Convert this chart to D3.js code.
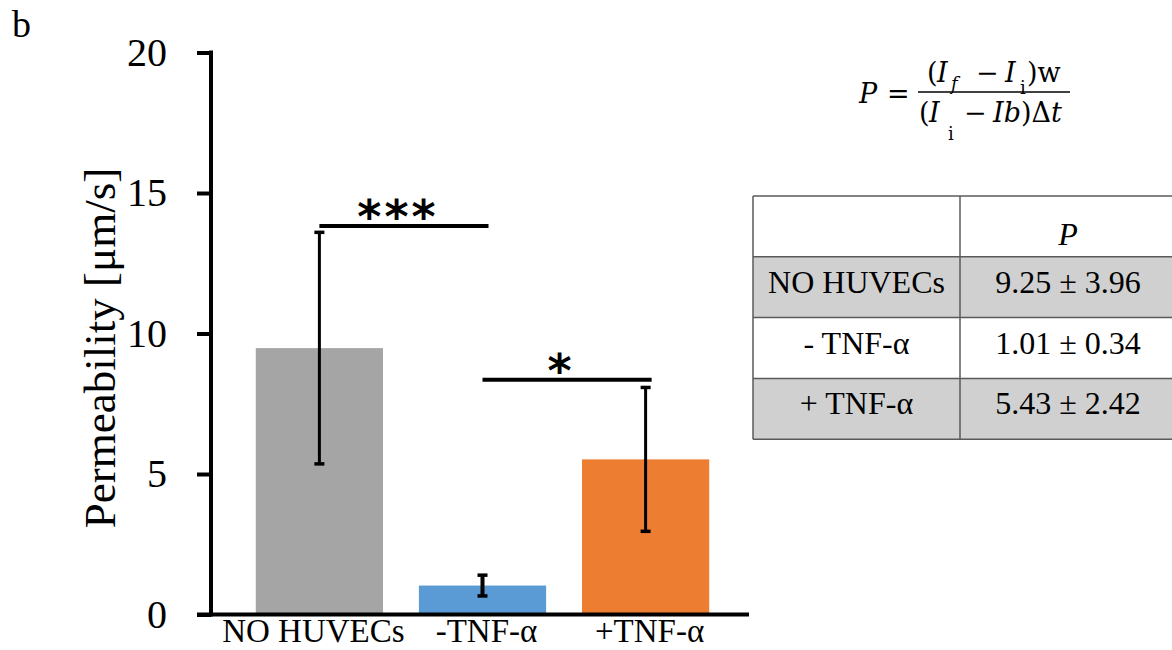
<!DOCTYPE html>
<html lang="en">
<head>
<meta charset="utf-8">
<title>Permeability</title>
<script src="https://cdn.jsdelivr.net/npm/d3@7"></script>
<style>
  body { margin: 0; background: #fff; }
  text { font-family: "Liberation Serif", "Times New Roman", serif; fill: #000; }
  .math text { font-family: "DejaVu Serif", serif; font-size: 27px; }
  .stars { font-family: "DejaVu Sans", sans-serif; font-weight: bold; }
</style>
</head>
<body>
<div id="chart"></div>
<script>
// bar data
var categories = ["NO HUVECs", "-TNF-\u03b1", "+TNF-\u03b1"];
var means = [9.48, 1.03, 5.52];
var errors = [4.12, 0.37, 2.56];
var barColors = ["#a5a5a5", "#5b9bd5", "#ed7d31"];
var yTicks = [0, 5, 10, 15, 20];

// significance brackets
var sigFrom = [0, 1];
var sigTo = [1, 2];
var sigLevel = [13.83, 8.35];
var sigLabel = ["***", "*"];

// table on the right
var tableRows = ["NO HUVECs", "- TNF-\u03b1", "+ TNF-\u03b1"];
var tableMeans = [9.25, 1.01, 5.43];
var tableSD = [3.96, 0.34, 2.42];

var width = 1172, height = 650;

var svg = d3.select("#chart").append("svg")
    .attr("width", width)
    .attr("height", height);

var y = d3.scaleLinear().domain([0, 20]).range([614.5, 52.5]);
var x = d3.scaleBand().domain(categories)
    .range([215, 750])
    .paddingInner(0.22)
    .paddingOuter(0.25);

// panel letter
svg.append("text").attr("x", 12).attr("y", 37)
    .style("font-size", "38px").text("b");

// bars
svg.append("g").selectAll("rect")
    .data(categories)
  .enter().append("rect")
    .attr("x", function(d) { return x(d); })
    .attr("width", x.bandwidth())
    .attr("y", function(d, i) { return y(means[i]); })
    .attr("height", function(d, i) { return y(0) - y(means[i]); })
    .attr("fill", function(d, i) { return barColors[i]; });

// error bars
var eb = svg.append("g").attr("stroke", "#000");
categories.forEach(function(c, i) {
  var cx = x(c) + x.bandwidth() / 2;
  var lo = y(means[i] - errors[i]), hi = y(means[i] + errors[i]);
  var sw = i == 1 ? 4 : 3;
  eb.append("line").attr("x1", cx).attr("x2", cx).attr("y1", lo).attr("y2", hi).attr("stroke-width", sw);
  eb.append("line").attr("x1", cx - 5).attr("x2", cx + 5).attr("y1", lo).attr("y2", lo).attr("stroke-width", 3.5);
  eb.append("line").attr("x1", cx - 5).attr("x2", cx + 5).attr("y1", hi).attr("y2", hi).attr("stroke-width", 3.5);
});

// y axis
var yAxis = d3.axisLeft(y)
    .tickValues(yTicks)
    .tickSize(14)
    .tickSizeOuter(0)
    .tickPadding(30)
    .tickFormat(d3.format("d"));

var gy = svg.append("g")
    .attr("transform", "translate(211,0)")
    .call(yAxis);
gy.select(".domain").remove();
gy.selectAll(".tick line").attr("stroke", "#000").attr("stroke-width", 4);
gy.selectAll(".tick text")
    .attr("font-family", "Liberation Serif, serif")
    .attr("font-size", 40)
    .attr("fill", "#000");

svg.append("line")
    .attr("x1", 211).attr("x2", 211)
    .attr("y1", y(20) - 2).attr("y2", y(0) + 2)
    .attr("stroke", "#000").attr("stroke-width", 4);

// x axis
svg.append("line")
    .attr("x1", 197).attr("x2", 749)
    .attr("y1", y(0)).attr("y2", y(0))
    .attr("stroke", "#000").attr("stroke-width", 4);

svg.append("g").selectAll("text")
    .data(categories)
  .enter().append("text")
    .attr("x", function(d, i) { return x(d) + x.bandwidth() / 2 + (i == 0 ? -6 : 4); })
    .attr("y", 642)
    .attr("text-anchor", "middle")
    .style("font-size", "33px")
    .text(function(d) { return d; });

// y label
svg.append("text")
    .attr("transform", "translate(115,348) rotate(-90)")
    .attr("text-anchor", "middle")
    .style("font-size", "45px")
    .text("Permeability [\u03bcm/s]");

// significance
sigLevel.forEach(function(v, i) {
  var x1 = x(categories[sigFrom[i]]) + x.bandwidth() / 2;
  var x2 = x(categories[sigTo[i]]) + x.bandwidth() / 2 + 6;
  svg.append("line")
      .attr("x1", x1).attr("x2", x2)
      .attr("y1", y(v)).attr("y2", y(v))
      .attr("stroke", "#000").attr("stroke-width", 4);
  svg.append("text")
      .attr("class", "stars")
      .attr("x", (x1 + x2) / 2 - 6)
      .attr("y", y(v) + 7)
      .attr("text-anchor", "middle")
      .style("font-size", "46px")
      .style("letter-spacing", "3px")
      .text(sigLabel[i]);
});

// formula
var f = svg.append("g").attr("class", "math");
f.append("text").attr("x", 859).attr("y", 103).style("font-style", "italic").text("P");
f.append("text").attr("x", 887).attr("y", 103).text("=");
f.append("line").attr("x1", 918).attr("x2", 1070).attr("y1", 92).attr("y2", 92)
    .attr("stroke", "#000").attr("stroke-width", 1.6);

var num = f.append("text").attr("y", 82);
num.append("tspan").attr("x", 927).text("(");
num.append("tspan").attr("x", 937).style("font-style", "italic").text("I");
num.append("tspan").attr("x", 951).attr("y", 90).style("font-style", "italic").style("font-size", "18px").text("f");
num.append("tspan").attr("x", 976).attr("y", 82).text("\u2212");
num.append("tspan").attr("x", 1005).style("font-style", "italic").text("I");
num.append("tspan").attr("x", 1020).attr("y", 94).style("font-size", "18px").text("i");
num.append("tspan").attr("x", 1027).attr("y", 82).text(")w");

var den = f.append("text").attr("y", 122);
den.append("tspan").attr("x", 919).text("(");
den.append("tspan").attr("x", 929).style("font-style", "italic").text("I");
den.append("tspan").attr("x", 948).attr("y", 140).style("font-size", "18px").text("i");
den.append("tspan").attr("x", 964).attr("y", 122).text("\u2212");
den.append("tspan").attr("x", 993).style("font-style", "italic").text("Ib");
den.append("tspan").text(")\u0394");
den.append("tspan").style("font-style", "italic").text("t");

// table
var tx0 = 753, tx1 = 960, tx2 = 1176, ty0 = 196, rowH = 60.8;
var fmt = d3.format(".2f");
var tbl = svg.append("g");
tableRows.forEach(function(r, i) {
  var top = ty0 + rowH * (i + 1);
  if (i % 2 == 0) {
    tbl.append("rect").attr("x", tx0).attr("y", top).attr("width", tx2 - tx0).attr("height", rowH)
        .attr("fill", "#d0d0d0");
  }
  tbl.append("text").attr("x", (tx0 + tx1) / 2).attr("y", top + 36)
      .attr("text-anchor", "middle").style("font-size", "32px").text(r);
  tbl.append("text").attr("x", (tx1 + tx2) / 2).attr("y", top + 36)
      .attr("text-anchor", "middle").style("font-size", "32px")
      .text(fmt(tableMeans[i]) + " \u00b1 " + fmt(tableSD[i]));
});
tbl.append("text").attr("x", (tx1 + tx2) / 2).attr("y", ty0 + 49)
    .attr("text-anchor", "middle").style("font-size", "32px").style("font-style", "italic").text("P");

d3.range(5).forEach(function(k) {
  var yy = ty0 + rowH * k;
  tbl.append("line").attr("x1", tx0).attr("x2", tx2).attr("y1", yy).attr("y2", yy)
      .attr("stroke", "#5a5a5a").attr("stroke-width", 1.5);
});
[tx0, tx1].forEach(function(xx) {
  tbl.append("line").attr("x1", xx).attr("x2", xx).attr("y1", ty0).attr("y2", ty0 + rowH * 4)
      .attr("stroke", "#5a5a5a").attr("stroke-width", 1.5);
});
</script>
</body>
</html>
